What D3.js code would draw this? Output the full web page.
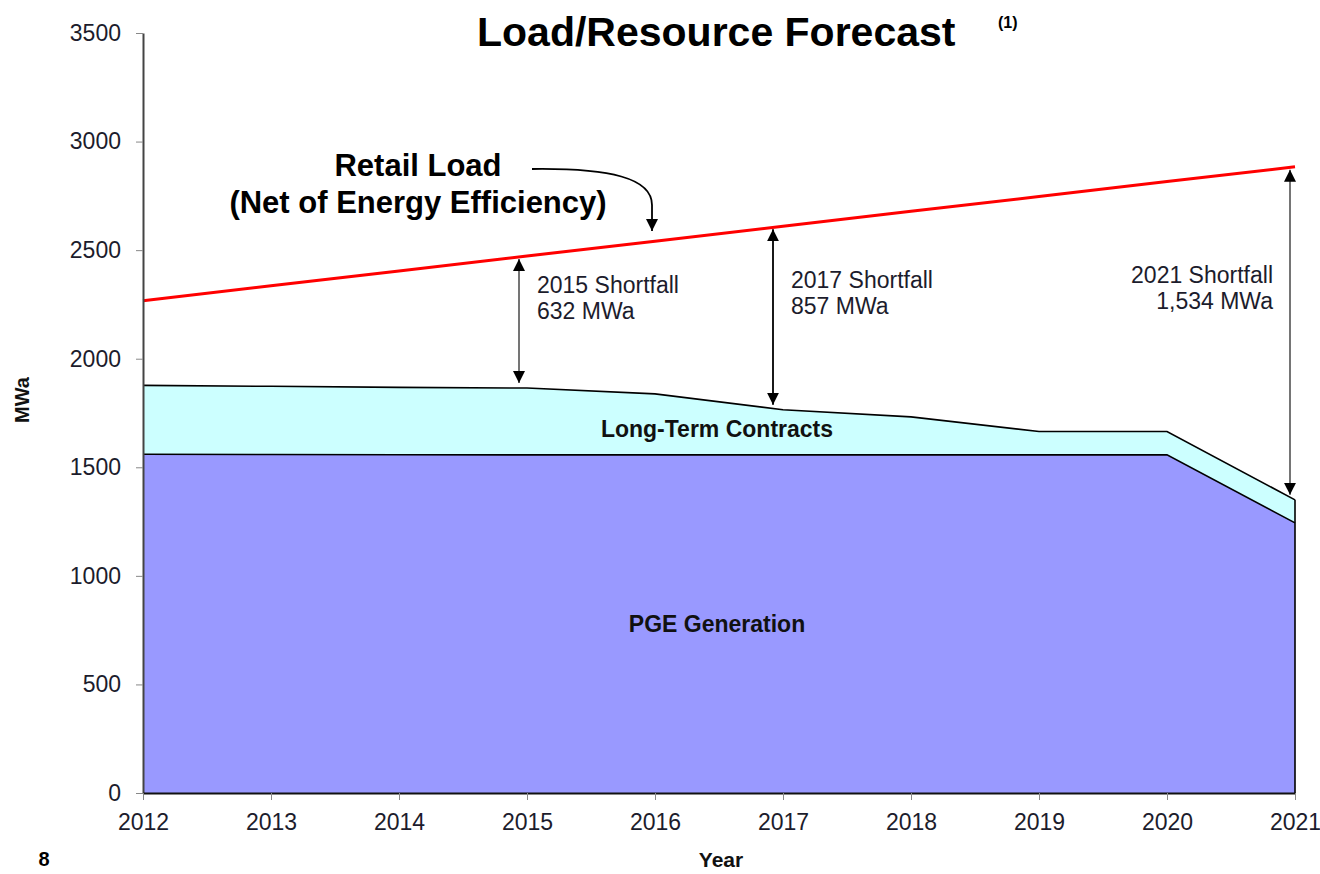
<!doctype html>
<html lang="en">
<head>
<meta charset="UTF-8">
<title>Load/Resource Forecast</title>
<style>
    body { margin: 0; background: #fff; }
    svg text { font-family: Arial, "Liberation Sans", sans-serif; }
    .axis line { stroke: #888; }
    .axis text { font-size: 23px; fill: #1c1c2c; }
</style>
</head>
<body>
<svg id="chart" width="1320" height="874"></svg>
<script src="https://cdn.jsdelivr.net/npm/d3@7"></script>
<script>
    // data
    var years = [2012, 2013, 2014, 2015, 2016, 2017, 2018, 2019, 2020, 2021]
    var retailLoad = [2267, 2336, 2404, 2473, 2541, 2610, 2679, 2747, 2816, 2884]
    var generation = [1560, 1559, 1558, 1557, 1557, 1557, 1557, 1557, 1557, 1244]
    var totalSupply = [1877, 1873, 1868, 1865, 1838, 1765, 1732, 1665, 1665, 1350]
    var yTicks = [0, 500, 1000, 1500, 2000, 2500, 3000, 3500]
    var shortfalls = [
        { year: 2015, lines: ['2015 Shortfall', '632 MWa'], side: 'right', shift: -8, color: '#666' },
        { year: 2017, lines: ['2017 Shortfall', '857 MWa'], side: 'right', shift: -10, color: '#000' },
        { year: 2021, lines: ['2021 Shortfall', '1,534 MWa'], side: 'left', shift: -5, color: '#666' }
    ]

    var svg = d3.select('#chart')
    var x = d3.scaleLinear().domain([2012, 2021]).range([143, 1295])
    var y = d3.scaleLinear().domain([0, 3500]).range([793, 33])

    svg.append('defs').append('marker')
        .attr('id', 'arr').attr('viewBox', '0 0 10 10')
        .attr('refX', 10).attr('refY', 5)
        .attr('markerWidth', 12).attr('markerHeight', 13)
        .attr('markerUnits', 'userSpaceOnUse')
        .attr('orient', 'auto-start-reverse')
        .append('path').attr('d', 'M0,0 L10,5 L0,10 z').attr('fill', '#000')

    var rows = years.map(function(yr, i) {
        return { x: yr, gen: generation[i], sup: totalSupply[i], load: retailLoad[i] }
    })

    // contracts band
    svg.append('path')
        .attr('d', d3.area().x(function(d) { return x(d.x) })
            .y0(function(d) { return y(d.gen) }).y1(function(d) { return y(d.sup) })(rows))
        .attr('fill', '#ccffff')
    // generation
    svg.append('path')
        .attr('d', d3.area().x(function(d) { return x(d.x) })
            .y0(y(0)).y1(function(d) { return y(d.gen) })(rows))
        .attr('fill', '#9999ff')

    var ln = function(key) {
        return d3.line().x(function(d) { return x(d.x) }).y(function(d) { return y(d[key]) })
    }
    svg.append('path').attr('d', ln('gen')(rows)).attr('fill', 'none').attr('stroke', '#000').attr('stroke-width', 1.6)
    svg.append('path').attr('d', ln('sup')(rows)).attr('fill', 'none').attr('stroke', '#000').attr('stroke-width', 1.6)
    svg.append('line')
        .attr('x1', x(2021)).attr('x2', x(2021))
        .attr('y1', y(totalSupply[9])).attr('y2', y(0))
        .attr('stroke', '#000').attr('stroke-width', 1.6)

    // retail load
    svg.append('path').attr('d', ln('load')(rows)).attr('fill', 'none').attr('stroke', '#ff0000').attr('stroke-width', 3)

    // axes
    svg.append('g').attr('class', 'axis')
        .attr('transform', 'translate(' + x(2012) + ',0)')
        .call(d3.axisLeft(y).tickValues(yTicks).tickSize(7).tickPadding(15).tickSizeOuter(0).tickFormat(d3.format('d')))
        .call(function(g) { g.select('.domain').attr('stroke', '#444').attr('stroke-width', 2) })
    svg.append('g').attr('class', 'axis')
        .attr('transform', 'translate(0,' + y(0) + ')')
        .call(d3.axisBottom(x).tickValues(years).tickSize(7).tickPadding(14).tickSizeOuter(0).tickFormat(d3.format('d')))
        .call(function(g) { g.select('.domain').attr('stroke', '#111').attr('stroke-width', 2) })

    // shortfall arrows
    shortfalls.forEach(function(s) {
        var i = years.indexOf(s.year)
        var ax = x(s.year) + s.shift
        var top = y(retailLoad[i]) + 3, bot = y(totalSupply[i]) - 5
        svg.append('line')
            .attr('x1', ax).attr('x2', ax).attr('y1', top).attr('y2', bot)
            .attr('stroke', s.color).attr('stroke-width', 1.8)
            .attr('marker-start', 'url(#arr)').attr('marker-end', 'url(#arr)')
        var t = svg.append('text')
            .attr('font-size', 23).attr('fill', '#1c1c2c')
            .attr('text-anchor', s.side === 'right' ? 'start' : 'end')
        var tx = s.side === 'right' ? ax + 18 : ax - 17
        var ty = s.year === 2021 ? 283 : (s.year === 2015 ? 293 : 288)
        s.lines.forEach(function(l, k) {
            t.append('tspan').attr('x', tx).attr('y', ty + k * 26).text(l)
        })
    })

    // titles and labels
    svg.append('text').attr('x', 477).attr('y', 46).attr('text-anchor', 'start')
        .attr('font-size', 41).attr('font-weight', 'bold').text('Load/Resource Forecast')
    svg.append('text').attr('x', 998).attr('y', 28).attr('text-anchor', 'start')
        .attr('font-size', 16).attr('font-weight', 'bold').text('(1)')

    svg.append('text').attr('x', 418).attr('y', 176).attr('text-anchor', 'middle')
        .attr('font-size', 31).attr('font-weight', 'bold').text('Retail Load')
    svg.append('text').attr('x', 418).attr('y', 213).attr('text-anchor', 'middle')
        .attr('font-size', 31).attr('font-weight', 'bold').text('(Net of Energy Efficiency)')
    svg.append('path')
        .attr('d', 'M532,169 C610,168 652,178 652,205 L652,231')
        .attr('fill', 'none').attr('stroke', '#000').attr('stroke-width', 1.8)
        .attr('marker-end', 'url(#arr)')

    svg.append('text').attr('x', 717).attr('y', 437).attr('text-anchor', 'middle')
        .attr('font-size', 23).attr('font-weight', 'bold').attr('fill', '#111').text('Long-Term Contracts')
    svg.append('text').attr('x', 717).attr('y', 632).attr('text-anchor', 'middle')
        .attr('font-size', 23).attr('font-weight', 'bold').attr('fill', '#111').text('PGE Generation')

    svg.append('text').attr('transform', 'translate(29,400) rotate(-90)').attr('text-anchor', 'middle')
        .attr('font-size', 20).attr('font-weight', 'bold').attr('fill', '#111').text('MWa')
    svg.append('text').attr('x', 721).attr('y', 867).attr('text-anchor', 'middle')
        .attr('font-size', 21).attr('font-weight', 'bold').attr('fill', '#111').text('Year')
    svg.append('text').attr('x', 44).attr('y', 866).attr('text-anchor', 'middle')
        .attr('font-size', 20).attr('font-weight', 'bold').text('8')
</script>
</body>
</html>
